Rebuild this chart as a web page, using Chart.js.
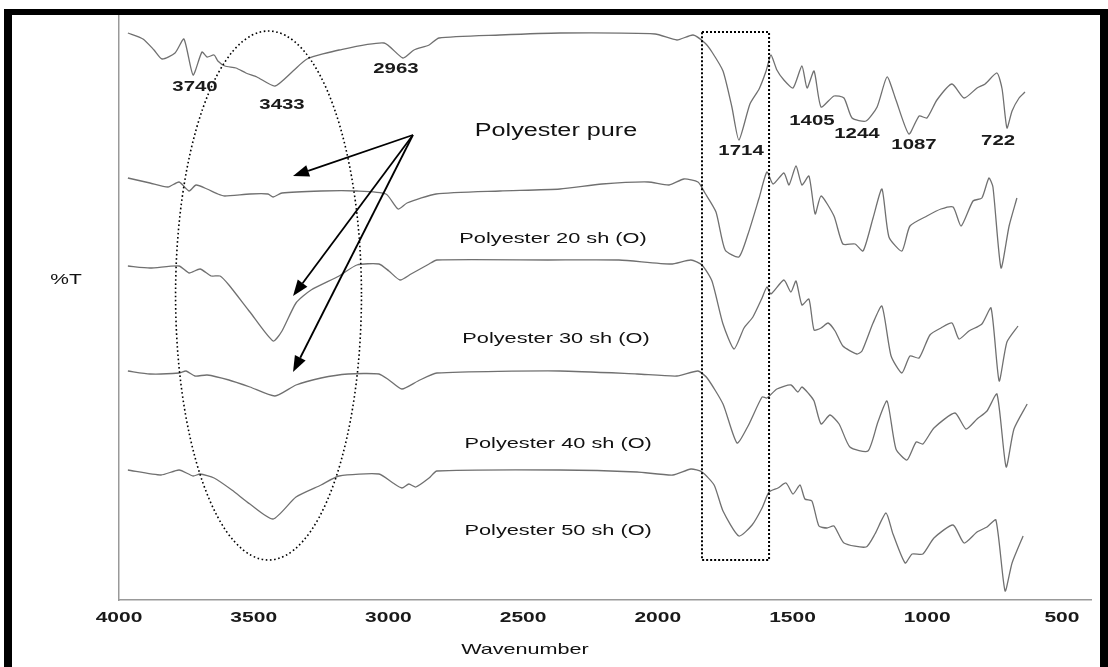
<!DOCTYPE html>
<html>
<head>
<meta charset="utf-8">
<title>FTIR polyester</title>
<script src="https://cdn.jsdelivr.net/npm/chart.js@4.4.1/dist/chart.umd.min.js"></script>
<style>
  html, body { margin: 0; padding: 0; background: #fff; }
  canvas { display: block; }
</style>
</head>
<body>
<canvas id="grafico" width="1108" height="667"></canvas>
<script>
// wavenumber (cm-1), %T (offset, arbitrary units)
const xTicks = [4000, 3500, 3000, 2500, 2000, 1500, 1000, 500];

const purePts = [[3967,113.4],[3911,112.2],[3870,110],[3840,108.2],[3792,109.4],[3759,112.2],[3725,105],[3692,109.6],[3673,108.6],[3647,109],[3633,107.8],[3607,106.8],[3566,106.4],[3529,105.4],[3488,104.6],[3421,102.8],[3354,105.8],[3302,108.2],[3183,110],[3016,111.4],[2946,108.4],[2905,110],[2849,111],[2812,112.4],[2586,113],[2363,113.4],[2010,113.2],[1929,112],[1869,113],[1825,111.4],[1799,109.6],[1758,105.8],[1725,98.6],[1699,92],[1658,99.2],[1624,102.2],[1598,105.8],[1580,109],[1558,106],[1532,104],[1498,102.4],[1465,106.8],[1446,102.4],[1420,105.8],[1394,98.6],[1346,100.8],[1309,100.4],[1279,96.4],[1227,95.8],[1186,98.6],[1149,104.6],[1116,100],[1068,93.2],[1030,96.8],[1001,96.4],[964,100],[908,103.2],[863,100.4],[815,102.4],[785,103.2],[741,105.4],[722,102.2],[704,94.4],[685,97.8],[659,100.4],[637,101.6]];

const sh20Pts = [[3967,84.4],[3885,83.4],[3818,82.6],[3777,83.6],[3740,81.8],[3714,83],[3673,82.2],[3633,81.2],[3607,80.8],[3514,81.2],[3447,81.2],[3428,80.6],[3395,81.4],[3250,81.8],[3117,81.8],[3009,81.2],[2964,78.2],[2931,79.4],[2823,81.2],[2586,81.8],[2363,82.2],[2207,83.2],[2036,83.6],[1958,83],[1903,84.2],[1851,83.6],[1825,81.4],[1784,77.6],[1750,70],[1699,68.6],[1665,73.2],[1624,80.4],[1595,85.6],[1572,83.2],[1532,85.4],[1513,83],[1487,86.8],[1465,83],[1439,84.8],[1416,77.2],[1394,80.8],[1346,76.8],[1313,71.2],[1268,71.2],[1238,69.8],[1201,76.4],[1168,82.2],[1142,72.6],[1094,69.8],[1064,74.8],[1001,76.8],[949,78.2],[904,78.6],[874,74.8],[830,79.8],[797,80.4],[771,84.4],[756,82.6],[726,66.4],[696,74.8],[667,80.4]];

const sh30Pts = [[3967,66.8],[3885,66.4],[3777,66.8],[3740,65.4],[3699,66.2],[3658,64.8],[3625,64.8],[3592,63],[3514,57.6],[3428,51.8],[3395,53.8],[3343,59.4],[3287,62],[3183,64.8],[3117,67],[3035,67.2],[2998,65.8],[2957,64],[2916,65.2],[2849,67.2],[2820,68],[2408,68],[2144,68],[1951,67.2],[1877,68],[1836,67],[1799,63.8],[1758,55.2],[1717,50.2],[1680,54.4],[1647,56.6],[1613,60.4],[1595,62.6],[1580,61.2],[1532,64],[1506,61.6],[1487,63.8],[1465,59],[1439,60.2],[1420,54],[1394,54.4],[1368,55.4],[1342,53.8],[1313,50.8],[1261,49.2],[1242,49.8],[1201,55.4],[1168,58.8],[1134,48.8],[1094,45.4],[1064,48.8],[1030,48.4],[990,53],[949,54.4],[908,55.4],[882,52.2],[845,53.8],[797,55.2],[763,58.4],[733,43.8],[704,51.6],[663,54.8]];

const sh40Pts = [[3967,45.8],[3885,45.2],[3777,45.4],[3751,45.8],[3718,44.8],[3673,45],[3592,44],[3514,42.6],[3421,40.8],[3343,43],[3250,44.4],[3150,45.2],[3035,45.2],[2998,44],[2950,42.2],[2890,43.8],[2820,45.4],[2363,45.8],[2077,45.2],[1929,44.8],[1851,45.8],[1817,44.4],[1758,39.2],[1706,31.4],[1665,34.8],[1613,40.6],[1595,40.4],[1558,42.2],[1506,43],[1480,41.6],[1465,42.6],[1439,41.2],[1420,39.8],[1394,35.2],[1361,37],[1327,35.2],[1287,30.6],[1220,29.8],[1183,35.6],[1149,39.8],[1116,30.2],[1075,28],[1041,31.6],[1016,31.2],[975,34.4],[897,37.4],[856,34.2],[815,36.2],[778,37.8],[741,41.2],[707,26.6],[678,34.2],[629,39.2]];

const sh50Pts = [[3967,26],[3844,25],[3777,26],[3725,24.8],[3699,25.2],[3647,24.4],[3581,22],[3514,19.2],[3428,16.2],[3343,20.6],[3250,23],[3183,24.8],[3035,25.2],[2983,23.4],[2950,22.4],[2924,23.2],[2898,22.6],[2849,24.4],[2820,25.8],[2363,26],[2077,25.6],[1944,25],[1877,26.2],[1836,25.6],[1791,23],[1758,17.8],[1699,12.8],[1650,15],[1613,18.4],[1587,21.6],[1554,22.4],[1524,23.4],[1498,21.2],[1472,23],[1454,20.2],[1428,19.8],[1402,14.8],[1372,14.4],[1346,14.8],[1309,11.4],[1227,10.6],[1194,13.2],[1153,17.4],[1127,13.2],[1082,7.4],[1056,9.2],[1016,9.2],[975,12.4],[904,15],[863,11.4],[815,13.6],[778,14.6],[745,16],[711,1.8],[685,7.4],[644,12.8]];

const seriesNames = ["Polyester pure", "Polyester 20 sh (O)", "Polyester 30 sh (O)", "Polyester 40 sh (O)", "Polyester 50 sh (O)"];
const seriesLabelAt = [[2378, 93.8], [2389, 72.2], [2378, 52.2], [2370, 31.2], [2370, 13.8]];

const peakNames = ["3740", "3433", "2963", "1714", "1405", "1244", "1087", "722"];
const peakLabelAt = [[3718,102.6],[3395,99],[2972,106.2],[1691,89.8],[1428,95.8],[1261,93.2],[1049,91],[737,91.8]];

// marcações: elipse (região O-H), retângulo (C=O) e setas
const ellipseBox = [3790, 3100, 8, 113.8];
const rectBox = [1836, 1587, 8, 113.6];
const arrowFrom = [2909, 93];
const arrowTo = [[3354, 84.8], [3354, 60.8], [3354, 45.6]];

const toXY = (pts) => pts.map(p => ({x: p[0], y: p[1]}));

function textoLargo(ctx, txt, x, y, font, stretch, color) {
  ctx.save();
  ctx.font = font;
  ctx.fillStyle = color;
  ctx.textAlign = "center";
  ctx.textBaseline = "middle";
  ctx.translate(x, y);
  ctx.scale(stretch, 1);
  ctx.fillText(txt, 0, 0);
  ctx.restore();
}

const extras = {
  id: "extras",
  afterDatasetsDraw(chart) {
    const ctx = chart.ctx;
    const xs = chart.scales.x, ys = chart.scales.y;
    const area = chart.chartArea;

    // elipse pontilhada
    ctx.save();
    ctx.strokeStyle = "#000";
    ctx.lineWidth = 1.6;
    ctx.setLineDash([1.6, 2.6]);
    const ex1 = xs.getPixelForValue(ellipseBox[0]), ex2 = xs.getPixelForValue(ellipseBox[1]);
    const ey1 = ys.getPixelForValue(ellipseBox[2]), ey2 = ys.getPixelForValue(ellipseBox[3]);
    ctx.beginPath();
    ctx.ellipse((ex1 + ex2) / 2, (ey1 + ey2) / 2, Math.abs(ex2 - ex1) / 2, Math.abs(ey1 - ey2) / 2, 0, 0, Math.PI * 2);
    ctx.stroke();

    // retângulo pontilhado
    const rx1 = xs.getPixelForValue(rectBox[0]), rx2 = xs.getPixelForValue(rectBox[1]);
    const ry1 = ys.getPixelForValue(rectBox[3]), ry2 = ys.getPixelForValue(rectBox[2]);
    ctx.lineWidth = 2;
    ctx.setLineDash([2, 2]);
    ctx.strokeRect(rx1, ry1, rx2 - rx1, ry2 - ry1);
    ctx.restore();

    // setas
    const ox = xs.getPixelForValue(arrowFrom[0]), oy = ys.getPixelForValue(arrowFrom[1]);
    ctx.save();
    ctx.strokeStyle = "#000";
    ctx.fillStyle = "#000";
    ctx.lineWidth = 1.8;
    arrowTo.forEach(a => {
      const tx = xs.getPixelForValue(a[0]), ty = ys.getPixelForValue(a[1]);
      const ang = Math.atan2(ty - oy, tx - ox);
      const len = 16, half = 6;
      const bx = tx - len * Math.cos(ang), by = ty - len * Math.sin(ang);
      ctx.beginPath();
      ctx.moveTo(ox, oy);
      ctx.lineTo(bx, by);
      ctx.stroke();
      ctx.beginPath();
      ctx.moveTo(tx, ty);
      ctx.lineTo(bx + half * Math.sin(ang), by - half * Math.cos(ang));
      ctx.lineTo(bx - half * Math.sin(ang), by + half * Math.cos(ang));
      ctx.closePath();
      ctx.fill();
    });
    ctx.restore();

    // rótulos dos picos
    peakNames.forEach((n, i) => {
      textoLargo(ctx, n, xs.getPixelForValue(peakLabelAt[i][0]), ys.getPixelForValue(peakLabelAt[i][1]),
        'bold 15px "Liberation Sans", Arial, sans-serif', 1.36, "#1a1a1a");
    });

    // nomes das amostras
    seriesNames.forEach((n, i) => {
      const big = i === 0;
      textoLargo(ctx, n, xs.getPixelForValue(seriesLabelAt[i][0]), ys.getPixelForValue(seriesLabelAt[i][1]),
        (big ? "18px" : "15px") + ' "Liberation Sans", Arial, sans-serif', big ? 1.4 : 1.45, "#111");
    });

    // ticks do eixo x
    xs.ticks.forEach(t => {
      textoLargo(ctx, String(t.value), xs.getPixelForValue(t.value), area.bottom + 18,
        'bold 15px "Liberation Sans", Arial, sans-serif', 1.4, "#1a1a1a");
    });

    // títulos dos eixos
    textoLargo(ctx, "Wavenumber", xs.getPixelForValue(2493), area.bottom + 50,
      '15px "Liberation Sans", Arial, sans-serif', 1.44, "#111");
    textoLargo(ctx, "%T", area.left - 53, ys.getPixelForValue(64),
      '15px "Liberation Sans", Arial, sans-serif', 1.4, "#111");

    // moldura preta
    ctx.save();
    ctx.fillStyle = "#000";
    ctx.fillRect(4, 9, 8, 658);
    ctx.fillRect(4, 9, 1104, 6);
    ctx.fillRect(1100, 9, 8, 658);
    ctx.restore();
  }
};

const serie = (pts) => ({
  data: toXY(pts),
  borderColor: "#707070",
  borderWidth: 1.3,
  pointRadius: 0,
  tension: 0.2,
  fill: false
});

const graficoFTIR = new Chart(document.getElementById("grafico"), {
  type: "line",
  data: {
    datasets: [serie(purePts), serie(sh20Pts), serie(sh30Pts), serie(sh40Pts), serie(sh50Pts)]
  },
  options: {
    responsive: false,
    animation: false,
    layout: { padding: { left: 117, right: 17, top: 15, bottom: 0 } },
    plugins: { legend: { display: false }, tooltip: { enabled: false } },
    scales: {
      x: {
        type: "linear",
        reverse: true,
        min: 392,
        max: 4000,
        grid: { display: false, drawTicks: false },
        border: { color: "#999", width: 1.5 },
        ticks: { display: false },
        afterBuildTicks(s) { s.ticks = xTicks.map(v => ({ value: v })); },
        afterFit(s) { s.height = 67; }
      },
      y: {
        min: 0,
        max: 117,
        grid: { display: false, drawTicks: false },
        border: { color: "#999", width: 1.5 },
        ticks: { display: false },
        afterFit(s) { s.width = 2; }
      }
    }
  },
  plugins: [extras]
});
</script>
</body>
</html>
